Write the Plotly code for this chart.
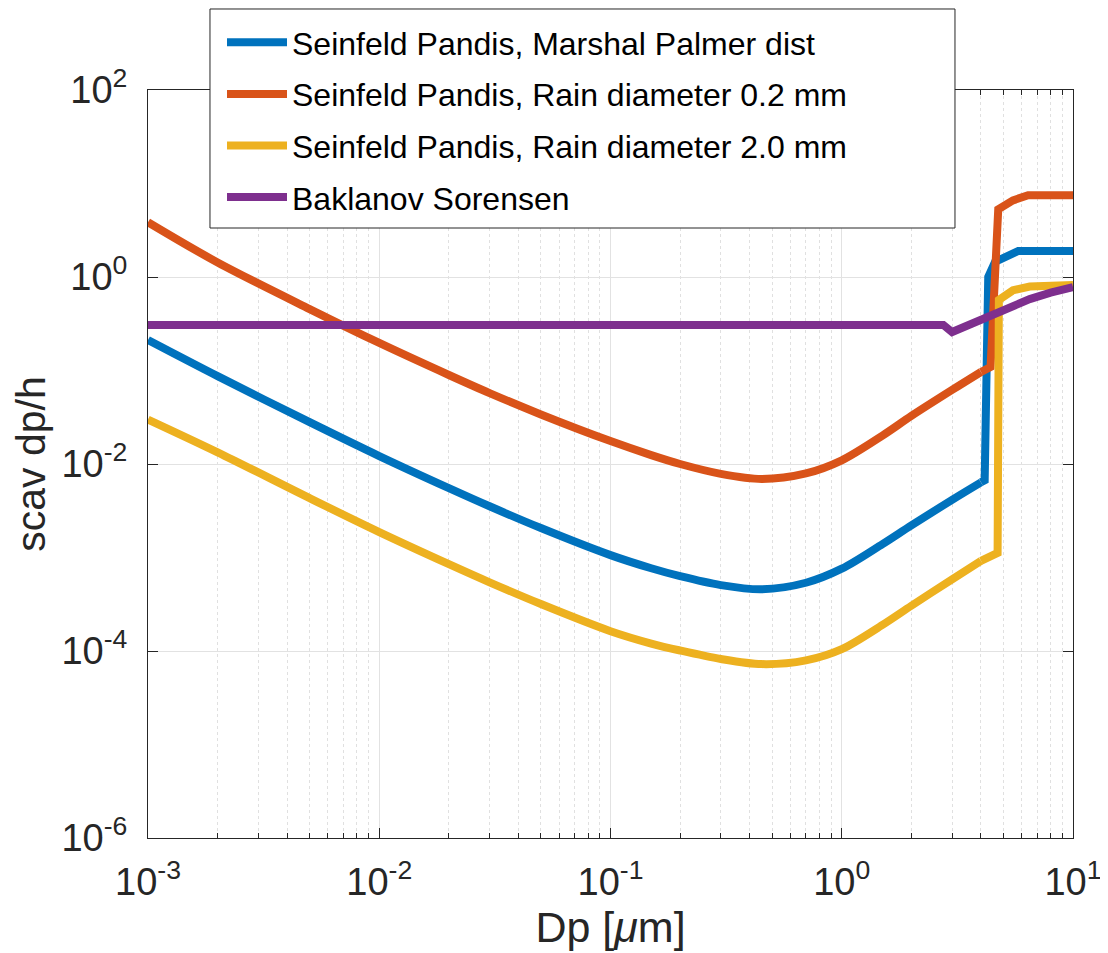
import plotly.graph_objects as go

# ---- data ----
# smooth part of the three Seinfeld-Pandis curves (Dp in um)
dp = [0.001, 0.002, 0.005, 0.01, 0.02, 0.03, 0.05, 0.1, 0.15, 0.2, 0.3, 0.45,
      0.7, 1.0, 1.5, 2.0, 3.0, 4.0]
mp_val = [0.212, 0.0871, 0.0280, 0.01216, 0.00552, 0.00353, 0.002065, 0.00106,
          0.000767, 0.000631, 0.000507, 0.000457, 0.000537, 0.000759, 0.001393,
          0.002208, 0.004140, 0.006368]
r02_val = [3.85, 1.429, 0.454, 0.197, 0.0895, 0.0573, 0.0339, 0.01758, 0.01245,
           0.0100, 0.00785, 0.00692, 0.00794, 0.01096, 0.02014, 0.03266, 0.06194,
           0.09638]
r20_val = [0.0299, 0.01334, 0.00431, 0.00187, 0.000849, 0.000543, 0.000318,
           0.000163, 0.0001202, 0.0001012, 0.0000822, 0.0000724, 0.0000794,
           0.0001047, 0.0001901, 0.0003048, 0.0005848, 0.0009204]

# jump (large-particle) part of each curve
mp_jump_dp = [4.0, 4.15, 4.3, 4.6, 5.8, 10.0]
mp_jump_val = [0.006368, 0.0067, 1.0, 1.45, 1.9, 1.9]
r02_jump_dp = [4.0, 4.4, 4.75, 5.5, 6.4, 10.0]
r02_jump_val = [0.09638, 0.109, 5.3, 6.6, 7.5, 7.5]
r20_jump_dp = [4.0, 4.72, 4.78, 5.5, 6.5, 10.0]
r20_jump_val = [0.0009204, 0.00112, 0.57, 0.72, 0.79, 0.82]

# Baklanov Sorensen
bs_dp = [0.001, 2.75, 3.0, 3.3, 4.0, 5.0, 6.5, 8.0, 10.0]
bs_val = [0.307, 0.307, 0.258, 0.285, 0.35, 0.45, 0.58, 0.68, 0.78]

names = ["Seinfeld Pandis, Marshal Palmer dist",
         "Seinfeld Pandis, Rain diameter 0.2 mm",
         "Seinfeld Pandis, Rain diameter 2.0 mm",
         "Baklanov Sorensen"]
colors = ["#0072BD", "#D95319", "#EDB120", "#7E2F8E"]

x_ticks = [1e-3, 1e-2, 1e-1, 1, 10]
x_ticktext = ["10<sup>-3</sup>", "10<sup>-2</sup>", "10<sup>-1</sup>",
              "10<sup>0</sup>", "10<sup>1</sup>"]
y_ticks = [1e-6, 1e-4, 1e-2, 1, 100]
y_ticktext = ["10<sup>-6</sup>", "10<sup>-4</sup>", "10<sup>-2</sup>",
              "10<sup>0</sup>", "10<sup>2</sup>"]
x_minor = [k * 10.0 ** e for e in range(-3, 1) for k in range(2, 10)]

smooth = [mp_val, r02_val, r20_val]
jumps = [(mp_jump_dp, mp_jump_val), (r02_jump_dp, r02_jump_val),
         (r20_jump_dp, r20_jump_val)]

fig = go.Figure()
for i in range(3):
    fig.add_trace(go.Scatter(x=dp, y=smooth[i], mode="lines", name=names[i],
                             legendgroup=f"g{i}",
                             line=dict(color=colors[i], width=8,
                                       shape="spline", smoothing=0.9)))
    fig.add_trace(go.Scatter(x=jumps[i][0], y=jumps[i][1], mode="lines",
                             name=names[i], legendgroup=f"g{i}", showlegend=False,
                             line=dict(color=colors[i], width=8)))
fig.add_trace(go.Scatter(x=bs_dp, y=bs_val, mode="lines", name=names[3],
                         legendgroup="g3", line=dict(color=colors[3], width=8)))

axcol = "#262626"
fig.update_layout(
    width=1100, height=945,
    margin=dict(l=140, r=35, t=82, b=115, autoexpand=False),
    plot_bgcolor="white", paper_bgcolor="white",
    font=dict(family="Liberation Sans, Arial, sans-serif", color=axcol),
    legend=dict(x=0.08, y=1.1003, xanchor="left", yanchor="top",
                borderwidth=0, bgcolor="rgba(0,0,0,0)",
                font=dict(size=32, color="#000000"), itemwidth=60,
                tracegroupgap=7, traceorder="grouped"),
    shapes=[dict(type="rect", xref="paper", yref="paper",
                 x0=0.067, x1=0.8724, y0=0.8155, y1=1.1083,
                 line=dict(color=axcol, width=1), fillcolor="white",
                 layer="above")],
    showlegend=True,
)
fig.update_xaxes(
    type="log", range=[-3, 1], automargin=False,
    tickmode="array", tickvals=x_ticks, ticktext=x_ticktext,
    ticks="inside", ticklen=10, tickcolor=axcol,
    showline=True, linecolor=axcol, linewidth=1, mirror="ticks",
    showgrid=True, gridcolor="#e2e2e2", gridwidth=1, zeroline=False,
    tickfont=dict(size=38, color=axcol), ticklabelstandoff=10,
    minor=dict(tickmode="array", tickvals=x_minor, ticks="inside", ticklen=5,
               tickcolor=axcol, showgrid=True, gridcolor="#e0e0e0",
               griddash="dot", gridwidth=1),
    title=dict(text="Dp [<i>μ</i>m]", font=dict(size=43, color=axcol), standoff=4),
)
fig.update_yaxes(
    type="log", range=[-6, 2], automargin=False,
    tickmode="array", tickvals=y_ticks, ticktext=y_ticktext,
    ticks="inside", ticklen=10, tickcolor=axcol,
    showline=True, linecolor=axcol, linewidth=1, mirror="ticks",
    showgrid=True, gridcolor="#e2e2e2", gridwidth=1, zeroline=False,
    tickfont=dict(size=38, color=axcol), ticklabelstandoff=12,
    title=dict(text="scav dp/h", font=dict(size=41, color=axcol), standoff=6),
)

fig.write_html("out.html")
